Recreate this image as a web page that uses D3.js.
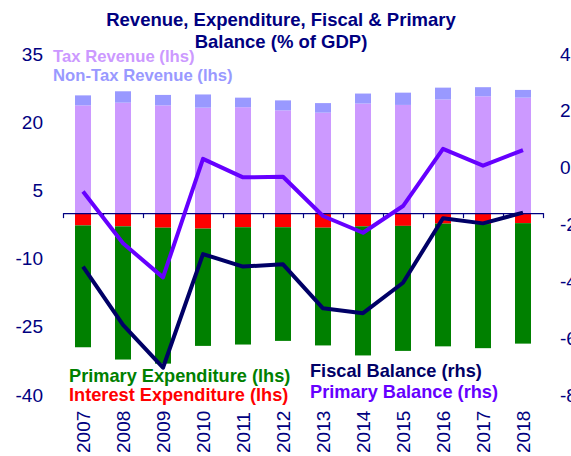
<!DOCTYPE html>
<html>
<head>
<meta charset="utf-8">
<script src="https://cdn.jsdelivr.net/npm/d3@7"></script>
<style>
  body { margin: 0; background: #fff; }
  svg { font-family: "Liberation Sans", Arial, sans-serif; }
</style>
</head>
<body>
<svg width="571" height="456"></svg>
<script>
var years = ["2007", "2008", "2009", "2010", "2011", "2012", "2013", "2014", "2015", "2016", "2017", "2018"];
var taxRevenue = [23.7, 24.3, 23.7, 23.2, 23.3, 22.6, 22.1, 24.1, 23.8, 25.0, 25.7, 25.4];
var nonTaxRevenue = [2.2, 2.5, 2.3, 2.9, 2.1, 2.2, 2.1, 2.2, 2.7, 2.6, 2.0, 1.7];
var interestExp = [2.7, 2.9, 3.2, 3.4, 3.1, 3.1, 3.2, 2.9, 2.8, 2.3, 2.4, 2.2];
var primaryExp = [26.8, 29.3, 29.9, 25.8, 25.8, 25.0, 25.9, 28.4, 27.5, 27.0, 27.3, 26.5];
var fiscalBalance = [-3.48, -5.53, -7.04, -3.04, -3.48, -3.40, -4.95, -5.12, -4.05, -1.78, -1.96, -1.58];
var primaryBalance = [-0.84, -2.66, -3.86, 0.31, -0.34, -0.32, -1.70, -2.29, -1.35, 0.66, 0.07, 0.62];
var leftTicks = [35, 20, 5, -10, -25, -40];
var rightTicks = [4, 2, 0, -2, -4, -6, -8];

var svg = d3.select("svg");
var navy = "#000080";

// scales
var x = d3.scaleBand().domain(years).range([63, 543]).paddingInner(0.6).paddingOuter(0.3);
var xTick = d3.scaleLinear().domain([0, years.length]).range([63, 543]);
var yL = d3.scaleLinear().domain([-40, 35]).range([395, 54]);
var yR = d3.scaleLinear().domain([-8, 4]).range([395, 54]);

var data = years.map(function(y, i) {
    return {year: y, tax: taxRevenue[i], nontax: nonTaxRevenue[i], interest: interestExp[i],
            primary: primaryExp[i], fb: fiscalBalance[i], pb: primaryBalance[i]};
});

// stacked bars
var bars = [
    {key: "tax", color: "#CC99FF", y0: function(d) { return 0; }, y1: function(d) { return d.tax; }},
    {key: "nontax", color: "#9999FF", y0: function(d) { return d.tax; }, y1: function(d) { return d.tax + d.nontax; }},
    {key: "interest", color: "#FF0000", y0: function(d) { return -d.interest; }, y1: function(d) { return 0; }},
    {key: "primary", color: "#008000", y0: function(d) { return -d.interest - d.primary; }, y1: function(d) { return -d.interest; }}
];

bars.forEach(function(b) {
    svg.append("g").selectAll("rect")
        .data(data)
        .enter().append("rect")
        .attr("x", function(d) { return x(d.year); })
        .attr("width", x.bandwidth())
        .attr("y", function(d) { return yL(b.y1(d)); })
        .attr("height", function(d) { return yL(b.y0(d)) - yL(b.y1(d)); })
        .attr("fill", b.color);
});

// x axis at zero
var xAxis = svg.append("g")
    .attr("transform", "translate(0," + yL(0) + ")")
    .call(d3.axisBottom(xTick).ticks(years.length).tickFormat("").tickSize(5).tickSizeOuter(0));
xAxis.selectAll("path, line").attr("stroke", navy).attr("stroke-width", 1.2);

// lines
var lineFb = d3.line().x(function(d) { return x(d.year) + x.bandwidth() / 2; }).y(function(d) { return yR(d.fb); });
var linePb = d3.line().x(function(d) { return x(d.year) + x.bandwidth() / 2; }).y(function(d) { return yR(d.pb); });

svg.append("path").datum(data).attr("d", lineFb)
    .attr("fill", "none").attr("stroke", "#000066").attr("stroke-width", 4).attr("stroke-linejoin", "round");
svg.append("path").datum(data).attr("d", linePb)
    .attr("fill", "none").attr("stroke", "#6600FF").attr("stroke-width", 4).attr("stroke-linejoin", "round");

// left labels
svg.append("g").selectAll("text")
    .data(leftTicks)
    .enter().append("text")
    .attr("x", 43)
    .attr("y", function(d) { return yL(d); })
    .attr("dy", "0.35em")
    .attr("text-anchor", "end")
    .style("font-size", "19px")
    .attr("fill", navy)
    .text(function(d) { return d; });

// right labels
svg.append("g").selectAll("text")
    .data(rightTicks)
    .enter().append("text")
    .attr("x", 560)
    .attr("y", function(d) { return yR(d); })
    .attr("dy", "0.35em")
    .style("font-size", "19px")
    .attr("fill", navy)
    .text(function(d) { return d; });

// year labels
svg.append("g").selectAll("text")
    .data(years)
    .enter().append("text")
    .attr("transform", function(d) { return "translate(" + (x(d) + x.bandwidth() / 2) + ",453) rotate(-90)"; })
    .attr("dy", "0.35em")
    .style("font-size", "19px")
    .attr("fill", navy)
    .text(function(d) { return d; });

// title
svg.append("text").attr("x", 281).attr("y", 26).attr("text-anchor", "middle")
    .style("font-size", "18.5px").style("font-weight", "bold").attr("fill", navy)
    .text("Revenue, Expenditure, Fiscal & Primary");
svg.append("text").attr("x", 281).attr("y", 48).attr("text-anchor", "middle")
    .style("font-size", "18.5px").style("font-weight", "bold").attr("fill", navy)
    .text("Balance (% of GDP)");

// legends
var legends = [
    {text: "Tax Revenue (lhs)", x: 53, y: 62, size: 16.7, color: "#CC99FF"},
    {text: "Non-Tax Revenue (lhs)", x: 53, y: 81, size: 16.7, color: "#9999FF"},
    {text: "Primary Expenditure (lhs)", x: 69, y: 382, size: 18.2, color: "#008000"},
    {text: "Interest Expenditure (lhs)", x: 69, y: 401, size: 18.2, color: "#FF0000"},
    {text: "Fiscal Balance (rhs)", x: 310, y: 377, size: 18.2, color: "#000066"},
    {text: "Primary Balance (rhs)", x: 310, y: 398, size: 18.2, color: "#6600FF"}
];
svg.append("g").selectAll("text")
    .data(legends)
    .enter().append("text")
    .attr("x", function(d) { return d.x; })
    .attr("y", function(d) { return d.y; })
    .style("font-size", function(d) { return d.size + "px"; })
    .style("font-weight", "bold")
    .attr("fill", function(d) { return d.color; })
    .text(function(d) { return d.text; });
</script>
</body>
</html>
